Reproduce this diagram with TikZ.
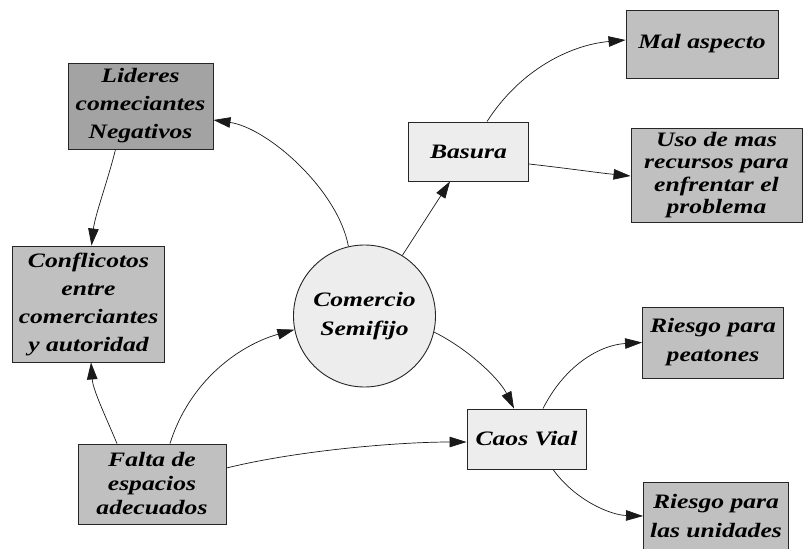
\documentclass[tikz,border=0pt]{standalone}
\usepackage{fontspec}
\setmainfont{Liberation Serif}[FakeStretch=1.25]
\usetikzlibrary{arrows.meta}
\definecolor{boxgray}{HTML}{C0C0C0}
\definecolor{darkgray2}{HTML}{A3A3A3}
\definecolor{lightfill}{HTML}{EDEDED}
\tikzset{
  box/.style={draw=black!85, line width=0.9pt, fill=boxgray, align=center, inner sep=0pt,
    font=\fontsize{20.5}{28}\selectfont\bfseries\itshape},
  lightbox/.style={box, fill=lightfill},
  conn/.style={draw=black!90, line width=0.7pt, -{Triangle[length=17pt,width=10.5pt]}}
}
\begin{document}
\begin{tikzpicture}[x=1pt,y=-1pt]
\useasboundingbox (0,0) rectangle (804,549);
\fill[white] (0,0) rectangle (804,549);
% nodes
\node[box, fill=darkgray2, minimum width=145pt, minimum height=86pt] (lid) at (140.5,106) {Lideres\\comeciantes\\Negativos};
\node[box, minimum width=152pt, minimum height=116pt] (con) at (88.5,304) {Conflicotos\\entre\\comerciantes\\y autoridad};
\node[box, minimum width=148pt, minimum height=80pt, font=\fontsize{20.5}{24}\selectfont\bfseries\itshape] (fal) at (152,484) {Falta de\\espacios\\adecuados};
\node[draw=black!85, line width=0.9pt, fill=lightfill, circle, minimum size=142pt, inner sep=0pt, align=center,
  font=\fontsize{20.5}{29}\selectfont\bfseries\itshape] (com) at (364.5,316) {Comercio\\Semifijo};
\node[lightbox, minimum width=120pt, minimum height=59pt] (bas) at (468.5,151.5) {Basura};
\node[lightbox, minimum width=119pt, minimum height=60pt] (cao) at (526.5,439) {Caos Vial};
\node[box, minimum width=152pt, minimum height=68pt] (mal) at (702,44) {Mal aspecto};
\node[box, minimum width=171pt, minimum height=94pt, font=\fontsize{20.5}{22.5}\selectfont\bfseries\itshape] (uso) at (716.5,175) {Uso de mas\\recursos para\\enfrentar el\\problema};
\node[box, minimum width=141pt, minimum height=71pt, font=\fontsize{20.5}{29}\selectfont\bfseries\itshape] (pea) at (713,342.5) {Riesgo para\\peatones};
\node[box, minimum width=145pt, minimum height=68pt, font=\fontsize{20.5}{29}\selectfont\bfseries\itshape] (uni) at (716,516) {Riesgo para\\las unidades};
% connectors
\draw[conn] (com.103) .. controls (338,190) and (268,128) .. ([yshift=-14pt]lid.east);
\draw[conn] ([xshift=-25pt]lid.south) .. controls (108,180) and (95,215) .. ([xshift=3pt]con.north);
\draw[conn] ([xshift=-35pt]fal.north) .. controls (105,415) and (93,390) .. ([xshift=2.5pt]con.south);
\draw[conn] ([xshift=18pt]fal.north) .. controls (190,380) and (240,345) .. (com.191);
\draw[conn] ([yshift=16pt]fal.east) .. controls (300,450) and (400,442) .. ([yshift=-3pt]cao.west);
\draw[conn] (com.-13) .. controls (470,350) and (500,380) .. ([xshift=-12.5pt]cao.north);
\draw[conn] (com.58) -- ([xshift=-18.5pt]bas.south);
\draw[conn] ([xshift=18.5pt]bas.north) .. controls (520,70) and (570,45) .. ([yshift=4pt]mal.west);
\draw[conn] ([yshift=-12.5pt]bas.east) .. controls (565,168) and (600,173) .. ([yshift=-1pt]uso.west);
\draw[conn] ([xshift=16.5pt]cao.north) .. controls (565,365) and (600,345) .. (pea.west);
\draw[conn] ([xshift=26.5pt]cao.south) .. controls (575,500) and (610,515) .. (uni.west);
\end{tikzpicture}
\end{document}
